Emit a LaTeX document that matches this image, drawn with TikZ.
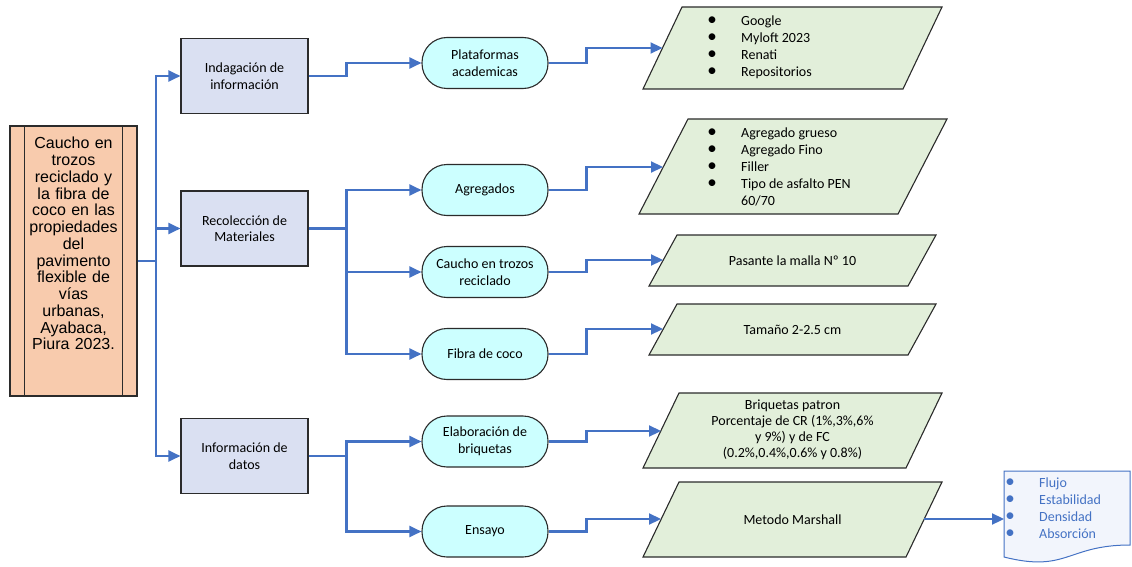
\documentclass[tikz,border=0pt]{standalone}
\usepackage{fontspec}
\setmainfont{Carlito}
\newfontfamily\arialf{Liberation Sans}
\usetikzlibrary{arrows.meta,calc}
\definecolor{peach}{HTML}{F8CBAD}
\definecolor{lavender}{HTML}{DAE0F2}
\definecolor{pillcyan}{HTML}{CCFFFF}
\definecolor{paragreen}{HTML}{E2EFDA}
\definecolor{linkblue}{HTML}{4472C4}
\definecolor{edgegray}{HTML}{2B2B2B}
\definecolor{docfill}{HTML}{F2F5FC}
\newcommand\bitem[1]{\makebox[29pt][l]{\makebox[0pt]{\fontsize{19}{17}\selectfont\textbullet}}#1}
\newcommand\blist[1]{\begin{tabular}[t]{@{}l@{}}#1\end{tabular}}
\begin{document}
\begin{tikzpicture}[x=1pt,y=-1pt,
  conn/.style={draw=linkblue, line width=2.2pt},
  arr/.style={conn, -{Triangle[length=12pt,width=11pt]}},
  edge/.style={draw=edgegray, line width=1.1pt},
  mainbox/.style={edge, fill=peach, minimum width=127pt, minimum height=270pt, inner sep=0pt},
  maintext/.style={text width=97pt, align=center, inner sep=0pt, font=\arialf\fontsize{16}{16.75}\selectfont},
  procbox/.style={edge, fill=lavender, minimum width=127pt, minimum height=75pt, inner sep=0pt, align=center, font=\fontsize{14}{16.5}\selectfont},
  pill/.style={edge, fill=pillcyan, rounded corners=25pt, minimum width=126pt, minimum height=51pt, inner sep=0pt, align=center, font=\fontsize{14}{16.5}\selectfont},
  paral/.style={edge, fill=paragreen},
  ptext/.style={align=center, inner sep=0pt, font=\fontsize{14}{16}\selectfont},
  ltext/.style={anchor=base west, inner sep=0pt, font=\fontsize{14}{17}\selectfont},
  docshape/.style={draw=linkblue, line width=1pt, fill=docfill},
]
\useasboundingbox (0,0) rectangle (1132,567);

% main node
\node[mainbox] (main) at (73.5,261) {};
\draw[edge] ($(main.north west)+(15,0)$) -- ($(main.south west)+(15,0)$);
\draw[edge] ($(main.north east)+(-15,0)$) -- ($(main.south east)+(-15,0)$);
\node[maintext, anchor=north] (maintxt) at (73.5,137) {Caucho en\\trozos\\reciclado y\\la fibra de\\coco en las\\propiedades\\del\\pavimento\\flexible de\\vías\\urbanas,\\Ayabaca,\\Piura 2023.};

% process boxes
\node[procbox] (ind) at (244.5,76) {Indagación de\\información};
\node[procbox] (rec) at (244.5,228.5) {Recolección de\\Materiales};
\node[procbox] (inf) at (244.5,456) {Información de\\datos};

% pills
\node[pill] (plat) at (485,63) {Plataformas\\academicas};
\node[pill] (agr) at (485,190) {Agregados};
\node[pill] (cau) at (485,272) {Caucho en trozos\\reciclado};
\node[pill] (fib) at (485,354) {Fibra de coco};
\node[pill] (ela) at (485,441.5) {Elaboración de\\briquetas};
\node[pill] (ens) at (485,531.5) {Ensayo};

% parallelograms
\draw[paral] (682,7) -- (942,7) -- (903,89) -- (643,89) -- cycle;
\coordinate (p1in) at (662.5,48);
\node[ltext] (p1t) at (712,25.5) {\blist{\bitem{Google}\\\bitem{Myloft 2023}\\\bitem{Renati}\\\bitem{Repositorios}}};

\draw[paral] (688,119) -- (947,119) -- (898,214) -- (639,214) -- cycle;
\coordinate (p2in) at (663,167);
\node[ltext] (p2t) at (712,137.5) {\blist{\bitem{Agregado grueso}\\\bitem{Agregado Fino}\\\bitem{Filler}\\\bitem{Tipo de asfalto PEN}\\\hspace{29pt}60/70}};

\draw[paral] (677,235) -- (936,235) -- (908,286) -- (649,286) -- cycle;
\coordinate (p3in) at (663,260);
\node[ptext] (p3t) at (792.5,260.5) {Pasante la malla Nº 10};

\draw[paral] (677,304) -- (936,304) -- (908,355) -- (649,355) -- cycle;
\coordinate (p4in) at (663,329);
\node[ptext] (p4t) at (792.5,329.5) {Tamaño 2-2.5 cm};

\draw[paral] (679,393) -- (942,393) -- (906,468) -- (643,468) -- cycle;
\coordinate (p5in) at (661,431);
\node[ptext] (p5t) at (792.5,430) {Briquetas patron\\Porcentaje de CR (1\%,3\%,6\%\\y 9\%) y de FC\\(0.2\%,0.4\%,0.6\% y 0.8\%)};

\draw[paral] (679,482) -- (942,482) -- (906,557) -- (643,557) -- cycle;
\coordinate (p6in) at (661,519);
\coordinate (p6out) at (924,519);
\node[ptext] (p6t) at (792.5,519.5) {Metodo Marshall};

% document shape
\draw[docshape] (1004,471) -- (1130,471) -- (1130,545) .. controls (1067,545) and (1067,573) .. (1004,557) -- cycle;
\coordinate (docin) at (1004,519);
\node[ltext, text=linkblue] (doct) at (1010,487.5) {\blist{\bitem{Flujo}\\\bitem{Estabilidad}\\\bitem{Densidad}\\\bitem{Absorción}}};

% connectors: main to boxes
\coordinate (busA) at (156,261);
\draw[conn] (main.east |- busA) -- (busA);
\draw[arr] (busA) |- (ind.west);
\draw[arr] (busA) |- (rec.west);
\draw[arr] (busA) |- (inf.west);

% boxes to pills
\draw[arr] (ind.east) -- ++(38,0) |- (plat.west);
\draw[conn] (rec.east) -- ++(38,0) coordinate (busB);
\draw[arr] (busB) |- (agr.west);
\draw[arr] (busB) |- (cau.west);
\draw[arr] (busB) |- (fib.west);
\draw[conn] (inf.east) -- ++(38,0) coordinate (busC);
\draw[arr] (busC) |- (ela.west);
\draw[arr] (busC) |- (ens.west);

% pills to parallelograms
\draw[arr] (plat.east) -- ++(38,0) |- (p1in);
\draw[arr] (agr.east) -- ++(38,0) |- (p2in);
\draw[arr] (cau.east) -- ++(38,0) |- (p3in);
\draw[arr] (fib.east) -- ++(38,0) |- (p4in);
\draw[arr] (ela.east) -- ++(38,0) |- (p5in);
\draw[arr] (ens.east) -- ++(38,0) |- (p6in);

% Marshall to document
\draw[arr] (p6out) -- (docin);
\end{tikzpicture}
\end{document}
